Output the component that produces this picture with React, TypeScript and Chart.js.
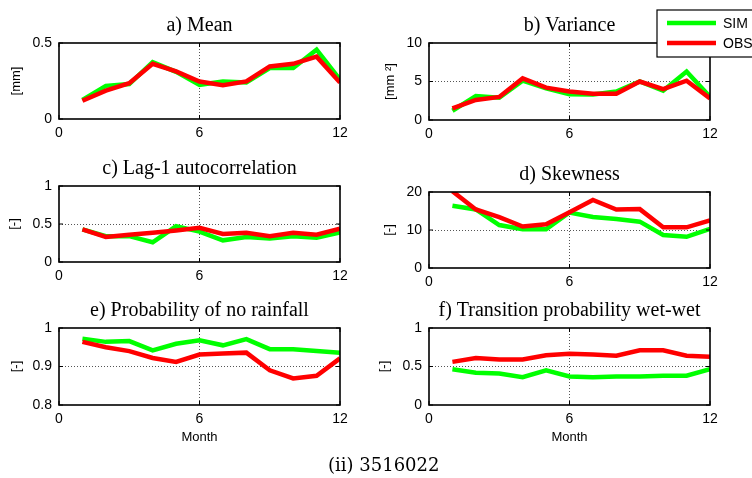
import React, { useEffect, useRef } from "react";
import { Chart, registerables } from "chart.js";

Chart.register(...registerables);

// ---------------- data ----------------
const months = [1, 2, 3, 4, 5, 6, 7, 8, 9, 10, 11, 12];
const seriesLabels = ["SIM", "OBS"];
const panelTitles = [
  "a) Mean",
  "b) Variance",
  "c) Lag-1 autocorrelation",
  "d) Skewness",
  "e) Probability of no rainfall",
  "f) Transition probability wet-wet",
];
const yLabels = ["[mm]", "[mm \u00B2]", "[-]", "[-]", "[-]", "[-]"];
const xLabel = "Month";
const caption = "(ii) 3516022";

const meanSim = [0.125, 0.218, 0.23, 0.374, 0.31, 0.225, 0.247, 0.24, 0.335, 0.335, 0.456, 0.258];
const meanObs = [0.12, 0.187, 0.236, 0.363, 0.313, 0.247, 0.222, 0.247, 0.346, 0.363, 0.41, 0.24];
const varSim = [1.2, 3.1, 2.9, 5.1, 4.1, 3.35, 3.3, 3.7, 5.0, 3.8, 6.3, 3.0];
const varObs = [1.5, 2.6, 3.0, 5.4, 4.2, 3.7, 3.4, 3.4, 5.0, 4.0, 5.1, 2.8];
const lagSim = [0.43, 0.34, 0.34, 0.26, 0.47, 0.4, 0.285, 0.33, 0.31, 0.34, 0.32, 0.39];
const lagObs = [0.43, 0.33, 0.36, 0.385, 0.415, 0.45, 0.37, 0.385, 0.34, 0.385, 0.36, 0.44];
const skewSim = [16.4, 15.4, 11.3, 10.2, 10.2, 14.6, 13.4, 12.9, 12.2, 8.7, 8.2, 10.3];
const skewObs = [20.2, 15.4, 13.4, 10.9, 11.5, 14.7, 17.9, 15.4, 15.5, 10.7, 10.7, 12.5];
const dryProbSim = [0.972, 0.964, 0.966, 0.942, 0.959, 0.968, 0.955, 0.971, 0.945, 0.945, 0.94, 0.936];
const dryProbObs = [0.964, 0.95, 0.94, 0.922, 0.912, 0.931, 0.934, 0.936, 0.89, 0.869, 0.876, 0.921];
const wetWetSim = [0.465, 0.42, 0.41, 0.36, 0.45, 0.37, 0.36, 0.37, 0.37, 0.38, 0.38, 0.465];
const wetWetObs = [0.56, 0.61, 0.59, 0.59, 0.645, 0.665, 0.655, 0.64, 0.71, 0.71, 0.64, 0.625];

const xRange = [0, 12];
const xStep = 6;
const yRanges = [
  [0, 0.5, 0.5],
  [0, 10, 5],
  [0, 1, 0.5],
  [0, 20, 10],
  [0.8, 1, 0.1],
  [0, 1, 0.5],
];
const simSeries = [meanSim, varSim, lagSim, skewSim, dryProbSim, wetWetSim];
const obsSeries = [meanObs, varObs, lagObs, skewObs, dryProbObs, wetWetObs];

// ---------------- layout / style ----------------
const W = 752;
const H = 478;
const SIM_COLOR = "#00ff00";
const OBS_COLOR = "#ff0000";
const TICK_FONT = { family: "'Liberation Sans', Arial, sans-serif", size: 14 };
const LABEL_FONT = { family: "'Liberation Sans', Arial, sans-serif", size: 13 };
const TITLE_SIZE = 20;
const TITLE_FONT = {
  family: "'Liberation Serif', 'Times New Roman', serif",
  size: TITLE_SIZE,
  lineHeight: 1.2,
  weight: "normal",
};
const TITLE_PAD_BOTTOM = 5.5;
const TITLE_H = TITLE_SIZE * 1.2 + TITLE_PAD_BOTTOM;
const X_AXIS_H = 40;

// plot-area rectangles [left, right, top, bottom] and y-axis box widths
const areas = [
  { L: 59, R: 340, T: 43, B: 119, yW: 50 },
  { L: 429, R: 710, T: 43, B: 120, yW: 46 },
  { L: 59, R: 340, T: 186, B: 262, yW: 52 },
  { L: 429, R: 710, T: 192, B: 268, yW: 47 },
  { L: 59, R: 340, T: 328, B: 405, yW: 50 },
  { L: 429, R: 710, T: 328, B: 405, yW: 52 },
];

const gridColor = (c: any) =>
  c.tick && c.tick.value > c.scale.min + 1e-9 && c.tick.value < c.scale.max - 1e-9
    ? "#555"
    : "rgba(0,0,0,0)";

const fmtTick = (v: any) => String(+Number(v).toFixed(3));

const boxPlugin = {
  id: "matlabBox",
  afterDraw(chart: any) {
    const { ctx, chartArea: a, scales } = chart;
    const tl = 4;
    ctx.save();
    ctx.strokeStyle = "#000";
    ctx.lineWidth = 1;
    ctx.beginPath();
    scales.x.ticks.forEach((t: any) => {
      const px = scales.x.getPixelForValue(t.value);
      ctx.moveTo(px, a.bottom);
      ctx.lineTo(px, a.bottom - tl);
      ctx.moveTo(px, a.top);
      ctx.lineTo(px, a.top + tl);
    });
    scales.y.ticks.forEach((t: any) => {
      const py = scales.y.getPixelForValue(t.value);
      ctx.moveTo(a.left, py);
      ctx.lineTo(a.left + tl, py);
      ctx.moveTo(a.right, py);
      ctx.lineTo(a.right - tl, py);
    });
    ctx.stroke();
    ctx.lineWidth = 1.6;
    ctx.strokeRect(a.left, a.top, a.right - a.left, a.bottom - a.top);
    ctx.restore();
  },
};

const legendPlugin = {
  id: "boxLegend",
  afterDraw(chart: any) {
    const ctx = chart.ctx;
    const x = 657;
    const y = 10;
    const w = 120;
    const h = 47;
    ctx.save();
    ctx.fillStyle = "#fff";
    ctx.fillRect(x, y, w, h);
    ctx.strokeStyle = "#000";
    ctx.lineWidth = 1.2;
    ctx.strokeRect(x, y, w, h);
    chart.data.datasets.forEach((ds: any, i: number) => {
      const ly = y + 13 + i * 20;
      ctx.strokeStyle = ds.borderColor;
      ctx.lineWidth = 4.5;
      ctx.beginPath();
      ctx.moveTo(x + 10, ly);
      ctx.lineTo(x + 59, ly);
      ctx.stroke();
      ctx.fillStyle = "#000";
      ctx.font = "14px 'Liberation Sans', Arial, sans-serif";
      ctx.textBaseline = "middle";
      ctx.textAlign = "left";
      ctx.fillText(ds.label, x + 66, ly + 1);
    });
    ctx.restore();
  },
};

function makeConfig(i: number): any {
  const a = areas[i];
  const [yMin, yMax, yStep] = yRanges[i];
  const bottomRow = i >= 4;
  const toPts = (arr: number[]) => months.map((m, k) => ({ x: m, y: arr[k] }));
  return {
    type: "line",
    data: {
      datasets: [
        {
          label: seriesLabels[0],
          data: toPts(simSeries[i]),
          borderColor: SIM_COLOR,
          backgroundColor: SIM_COLOR,
          borderWidth: 4.5,
          pointRadius: 0,
          tension: 0,
          order: 1,
        },
        {
          label: seriesLabels[1],
          data: toPts(obsSeries[i]),
          borderColor: OBS_COLOR,
          backgroundColor: OBS_COLOR,
          borderWidth: 4.5,
          pointRadius: 0,
          tension: 0,
          order: 0,
        },
      ],
    },
    options: {
      responsive: false,
      animation: false,
      devicePixelRatio: 1,
      events: [],
      layout: {
        padding: {
          left: a.L - a.yW,
          right: W - a.R,
          top: a.T - TITLE_H,
          bottom: H - a.B - X_AXIS_H,
        },
      },
      plugins: {
        legend: { display: false },
        tooltip: { enabled: false },
        title: {
          display: true,
          text: panelTitles[i],
          fullSize: false,
          color: "#000",
          font: TITLE_FONT,
          padding: { top: 0, bottom: TITLE_PAD_BOTTOM },
        },
      },
      scales: {
        x: {
          type: "linear",
          position: "bottom",
          min: xRange[0],
          max: xRange[1],
          ticks: {
            stepSize: xStep,
            color: "#000",
            font: TICK_FONT,
            padding: 6,
            maxRotation: 0,
            callback: fmtTick,
          },
          grid: { color: gridColor, lineWidth: 1, drawTicks: false },
          border: { display: false, dash: [1, 2] },
          title: {
            display: bottomRow,
            text: xLabel,
            color: "#000",
            font: LABEL_FONT,
            padding: 0,
          },
          afterFit: (s: any) => {
            s.height = X_AXIS_H;
          },
        },
        y: {
          type: "linear",
          min: yMin,
          max: yMax,
          ticks: { stepSize: yStep, color: "#000", font: TICK_FONT, padding: 7, callback: fmtTick },
          grid: { color: gridColor, lineWidth: 1, drawTicks: false },
          border: { display: false, dash: [1, 2] },
          title: {
            display: true,
            text: yLabels[i],
            color: "#000",
            font: LABEL_FONT,
            padding: 0,
          },
          afterFit: (s: any) => {
            s.width = a.yW;
          },
        },
      },
    },
    plugins: i === 1 ? [boxPlugin, legendPlugin] : [boxPlugin],
  };
}

function Panel({ index }: { index: number }) {
  const ref = useRef<HTMLCanvasElement | null>(null);
  useEffect(() => {
    if (!ref.current) return;
    const chart = new Chart(ref.current, makeConfig(index));
    return () => chart.destroy();
  }, [index]);
  return (
    <canvas
      ref={ref}
      width={W}
      height={H}
      style={{ position: "absolute", left: 0, top: 0, width: W, height: H, display: "block" }}
    />
  );
}

export default function App() {
  return (
    <div
      style={{
        position: "fixed",
        left: 0,
        top: 0,
        width: W,
        height: H,
        background: "#fff",
        overflow: "hidden",
      }}
    >
      {panelTitles.map((_, i) => (
        <Panel key={i} index={i} />
      ))}
      <div
        style={{
          position: "absolute",
          left: 328,
          top: 454,
          fontFamily: "'DejaVu Serif', serif",
          fontSize: 18,
          lineHeight: "22px",
          color: "#000",
          whiteSpace: "nowrap",
        }}
      >
        {caption}
      </div>
    </div>
  );
}
